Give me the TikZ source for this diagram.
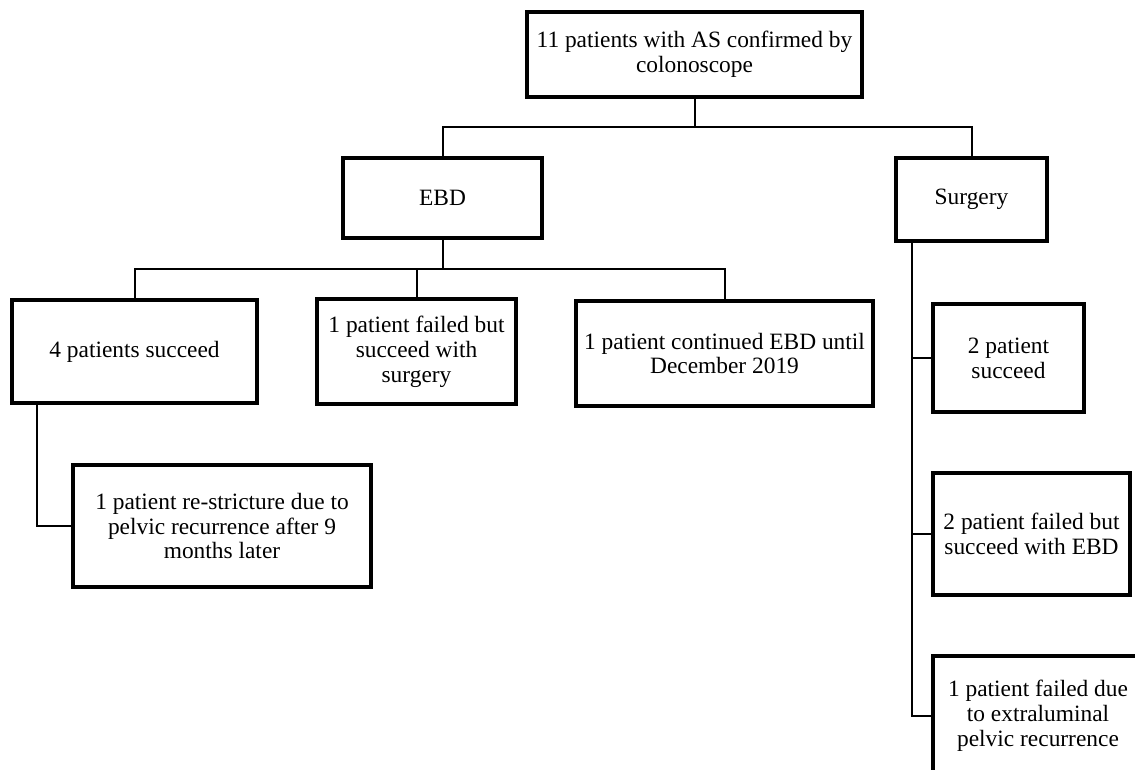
\documentclass[tikz,border=0pt]{standalone}
\usepackage{fontspec}
\setmainfont{Liberation Serif}
\begin{document}
\begin{tikzpicture}[x=1pt,y=-1pt,
  box/.style={draw=black, line width=3.3pt, fill=white, align=center, inner sep=0pt,
    font=\fontsize{23.4}{24.8}\selectfont},
  conn/.style={draw=black, line width=2pt}]
\clip (0,0) rectangle (1135,769);
\fill[white] (0,0) rectangle (1135,769);

\node[box, minimum width=335pt, minimum height=85pt] (top) at (694.5,54.5) {11 patients with AS confirmed by\\colonoscope};
\node[box, minimum width=199pt, minimum height=80pt] (ebd) at (442.5,198) {EBD};
\node[box, minimum width=151pt, minimum height=83pt] (surg) at (971.5,199.5) {Surgery};
\node[box, minimum width=245pt, minimum height=103pt] (s4) at (134.5,351.5) {4 patients succeed};
\node[box, minimum width=199pt, minimum height=105pt] (f1) at (416.5,351.5) {1 patient failed but\\succeed with\\surgery};
\node[box, minimum width=297pt, minimum height=105pt] (c1) at (724.5,353.5) {1 patient continued EBD until\\December 2019};
\node[box, minimum width=298pt, minimum height=122pt] (rs) at (222,526) {1 patient re-stricture due to\\pelvic recurrence after 9\\months later};
\node[box, minimum width=151pt, minimum height=108pt] (s2) at (1008.5,358) {2 patient\\succeed};
\node[box, minimum width=197pt, minimum height=122pt] (f2) at (1031.5,534) {2 patient failed but\\succeed with EBD};
\node[box, minimum width=210pt, minimum height=120pt] (f3) at (1038,716) {1 patient failed due\\to extraluminal\\pelvic recurrence};

% top level bus
\coordinate (b1) at (694.5,127);
\draw[conn] (top.south) -- (top.south |- b1) -| (ebd.north);
\draw[conn] (top.south |- b1) -| (surg.north);

% EBD bus
\coordinate (b2) at (442.5,269);
\draw[conn] (ebd.south) -- (ebd.south |- b2) -| (s4.north);
\draw[conn] (ebd.south |- b2) -| (f1.north);
\draw[conn] (ebd.south |- b2) -| (c1.north);

% 4 patients -> re-stricture
\coordinate (k) at (37,526);
\draw[conn] (s4.south -| k) -- (k) -- (rs.west);

% Surgery bus
\coordinate (sv) at (912,716);
\draw[conn] (surg.south -| sv) -- (sv |- f3.west) -- (f3.west);
\draw[conn] (sv |- s2.west) -- (s2.west);
\draw[conn] (sv |- f2.west) -- (f2.west);
\end{tikzpicture}
\end{document}
